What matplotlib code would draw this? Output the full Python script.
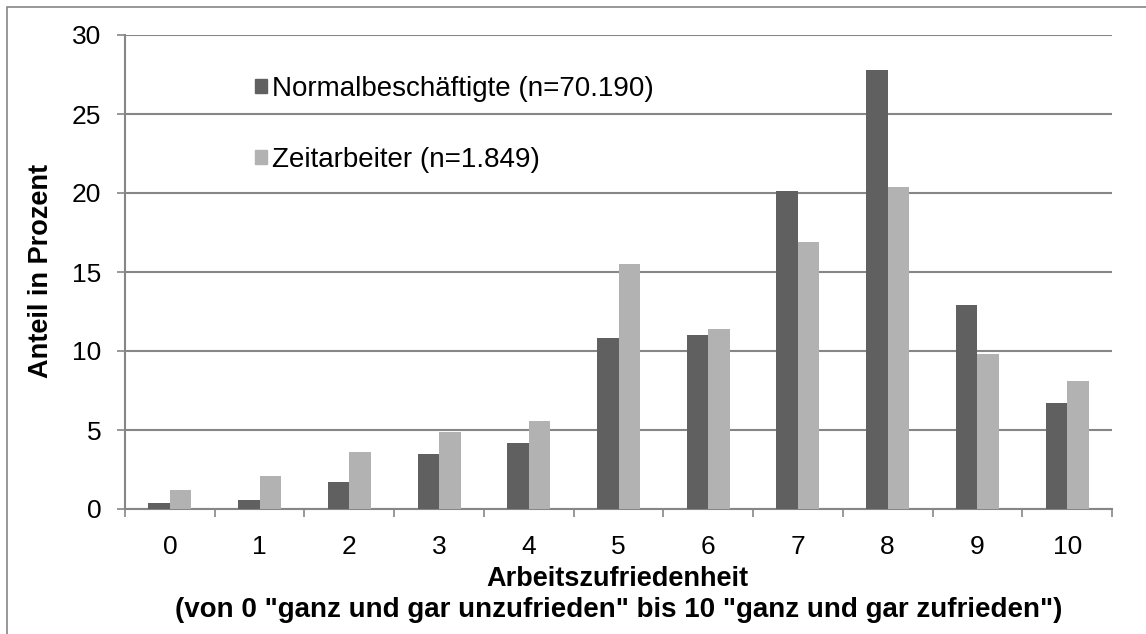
import numpy as np
import matplotlib.pyplot as plt
from matplotlib.patches import Rectangle, Patch

plt.rcParams["font.family"] = ["Liberation Sans", "DejaVu Sans"]

# data
categories = [str(i) for i in range(11)]
normal = [0.4, 0.6, 1.7, 3.5, 4.2, 10.8, 11.0, 20.1, 27.8, 12.9, 6.7]
zeit = [1.2, 2.1, 3.6, 4.9, 5.6, 15.5, 11.4, 16.9, 20.4, 9.8, 8.1]
series_labels = ["Normalbeschäftigte (n=70.190)", "Zeitarbeiter (n=1.849)"]
y_ticks = [0, 5, 10, 15, 20, 25, 30]

dark = "#606060"
light = "#b2b2b2"
grid = "#868686"

W, H = 1146, 634
fig = plt.figure(figsize=(W / 100, H / 100), dpi=100)

# chart area border (clipped on the right and bottom like the original)
fig.patches.append(Rectangle((7 / W, -0.1), 1.2, 1 - 7 / H + 0.1,
                             transform=fig.transFigure, fill=False,
                             edgecolor=grid, linewidth=1.2))

left, right, top, bottom = 125, 1112, 35, 509
ax = fig.add_axes([left / W, (H - bottom) / H, (right - left) / W, (bottom - top) / H])

x = np.arange(len(categories))
bw = 0.24
ax.bar(x - bw / 2, normal, bw, color=dark, zorder=3)
ax.bar(x + bw / 2, zeit, bw, color=light, zorder=3)

ax.set_xlim(-0.5, len(categories) - 0.5)
ax.set_ylim(0, 30)
ax.set_yticks(y_ticks)
ax.yaxis.grid(True, color=grid, linewidth=1.5, zorder=0)

for s in ["top", "right"]:
    ax.spines[s].set_visible(False)
for s in ["left", "bottom"]:
    ax.spines[s].set_color(grid)
    ax.spines[s].set_linewidth(1.5)

ax.tick_params(axis="y", length=6, width=1.2, color=grid, labelsize=19, pad=11)
ax.set_xticks(np.arange(len(categories) + 1) - 0.5)
ax.set_xticklabels([])
ax.set_xticks(x, minor=True)
ax.set_xticklabels(categories, minor=True)
ax.tick_params(axis="x", which="major", length=6, width=1.2, color=grid, direction="out")
ax.tick_params(axis="x", which="minor", length=0, labelsize=19, pad=19)

handles = [Patch(color=dark), Patch(color=light)]
ax.legend(handles, series_labels, loc="upper left", bbox_to_anchor=(0.1317, 0.914),
          frameon=False, fontsize=20, borderpad=0, borderaxespad=0,
          labelspacing=1.63, handlelength=0.43, handleheight=0.43,
          handletextpad=0.2)

fig.text(41 / W, 1 - 271 / H, "Anteil in Prozent", rotation=90, ha="center",
         va="center", fontsize=19.5, fontweight="bold")
fig.text(617 / W, 1 - 579 / H, "Arbeitszufriedenheit", ha="center",
         va="center", fontsize=19.5, fontweight="bold")
fig.text(619 / W, 1 - 610 / H,
         '(von 0 "ganz und gar unzufrieden" bis 10 "ganz und gar zufrieden")',
         ha="center", va="center", fontsize=20, fontweight="bold")

fig.savefig("out.png", dpi=100)
